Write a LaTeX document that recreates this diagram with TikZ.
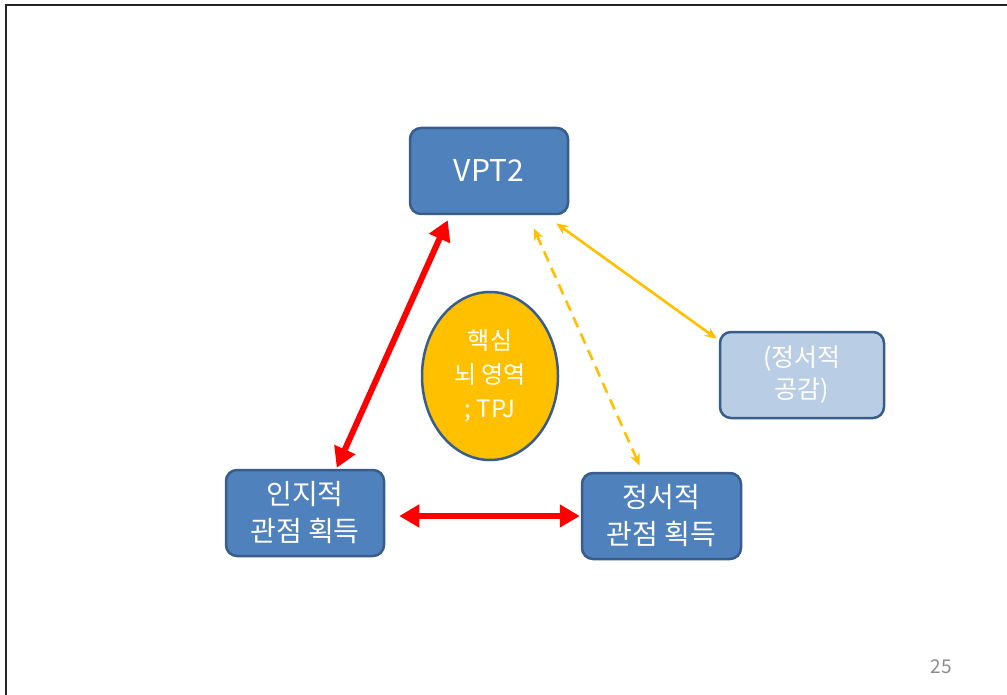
\documentclass[tikz,border=0pt]{standalone}
\usepackage{fontspec}
\setmainfont{Noto Sans CJK KR}
\usetikzlibrary{arrows.meta,shapes.geometric,calc}
\definecolor{boxblue}{HTML}{4F81BD}
\definecolor{boxedge}{HTML}{385D8A}
\definecolor{paleblue}{HTML}{B9CDE5}
\definecolor{gold}{HTML}{FFC000}
\definecolor{pagegray}{HTML}{8C8C8C}
\tikzset{
  bluebox/.style={draw=boxedge, line width=2.5pt, fill=boxblue, rounded corners=11pt,
    minimum width=158pt, minimum height=86pt, inner sep=0pt, align=center,
    text=white, font=\fontsize{28}{37}\selectfont},
  palebox/.style={bluebox, fill=paleblue, minimum width=164pt,
    font=\fontsize{25}{32}\selectfont},
  core/.style={ellipse, draw=boxedge, line width=2.5pt, fill=gold,
    minimum width=136pt, minimum height=168pt, inner sep=0pt, align=center,
    text=white, font=\fontsize{24}{34}\selectfont},
  redlink/.style={draw=red, line width=6pt,
    {Triangle[length=20pt,width=22pt]}-{Triangle[length=20pt,width=22pt]}},
  goldlink/.style={draw=gold, line width=2.6pt,
    {Stealth[length=12pt,width=10pt]}-{Stealth[length=12pt,width=10pt]}},
}
\begin{document}
\begin{tikzpicture}[x=1pt,y=-1pt]
  \useasboundingbox (0,0) rectangle (1007,695);
  % page frame
  \draw[line width=1.6pt, black!85] (1007,5) -- (6,5) -- (6,695);

  % nodes
  \node[bluebox, font=\fontsize{30}{36}\selectfont] (vpt) at (489,171) {VPT2};
  \node[bluebox] (cog) at (305,513) {인지적\\관점 획득};
  \node[bluebox, minimum width=159pt] (emo) at (661.5,516) {정서적\\관점 획득};
  \node[palebox] (emp) at (802,375) {(정서적\\공감)};
  \node[core] (tpj) at (490,376) {핵심\\뇌 영역\\; TPJ};

  % connectors
  \draw[redlink] ($(vpt.south west)+(39,5)$) -- ($(cog.north west)+(112,-1)$);
  \draw[redlink] ($(cog.east)+(14,3)$) -- ($(emo.west)+(-1,0)$);
  \draw[goldlink, dash pattern=on 11pt off 7pt]
    ($(vpt.south west)+(125,13)$) -- ($(emo.north west)+(59,-6)$);
  \draw[goldlink] ($(vpt.south east)+(-13,8)$) -- ($(emp.north west)+(-2,8)$);

  % page number
  \node[text=pagegray, font=\fontsize{19}{22}\selectfont] (pg) at (941,667) {25};
\end{tikzpicture}
\end{document}
